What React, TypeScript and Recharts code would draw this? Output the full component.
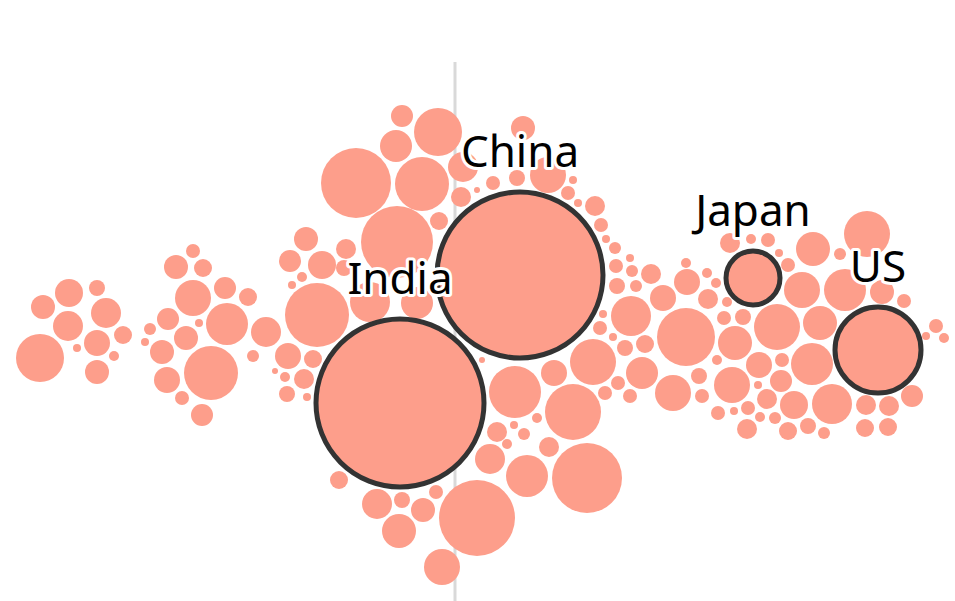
import React from 'react';
import { ScatterChart, Scatter, XAxis, YAxis, ZAxis } from 'recharts';

const BUBBLE_COLOR = '#fd9e8b';
const OUTLINE_COLOR = '#333333';
const RULE_COLOR = '#d9d9d9';

// highlighted countries
const highlightNames = ['China', 'India', 'Japan', 'US'];
const highlightX = [520, 400, 753, 878];
const highlightY = [275, 403, 278, 350];
const highlightR = [83, 84, 27, 43];

// each entry: [x, y, r]
const farLeftCluster: [number, number, number][] = [
  [40, 358, 24], [69, 293, 14], [43, 307, 12], [97, 288, 8], [68, 326, 15], [106, 313, 15],
  [123, 335, 9], [97, 343, 13], [77, 348, 4], [114, 356, 5], [97, 372, 12],
];

const leftCluster: [number, number, number][] = [
  [193, 251, 7], [176, 267, 12], [203, 268, 9], [193, 298, 18], [225, 288, 11], [168, 319, 11],
  [150, 329, 6], [145, 342, 4], [199, 323, 4], [186, 338, 12], [227, 324, 21], [162, 352, 12],
  [211, 373, 27], [167, 380, 13], [182, 398, 7], [202, 415, 11], [248, 297, 9], [266, 332, 15],
  [253, 356, 6],
];

const indiaCluster: [number, number, number][] = [
  [306, 239, 12], [290, 261, 11], [322, 265, 14], [302, 277, 5], [292, 285, 4], [317, 315, 32],
  [288, 356, 13], [313, 359, 9], [275, 371, 3], [285, 377, 5], [304, 379, 10], [287, 394, 8],
  [307, 397, 4], [346, 249, 10], [344, 268, 8],
  [402, 116, 11], [438, 132, 24], [396, 146, 16], [356, 183, 35], [422, 184, 27], [463, 167, 15],
  [461, 197, 10], [439, 221, 9], [397, 242, 36], [477, 190, 3], [370, 302, 20], [417, 303, 16],
  [339, 480, 9], [377, 504, 15], [402, 500, 8], [423, 510, 12], [436, 492, 7], [399, 531, 17],
  [442, 567, 18],
];

const chinaCluster: [number, number, number][] = [
  [523, 128, 12], [493, 183, 7], [517, 178, 8], [548, 175, 18], [573, 180, 4], [568, 193, 7],
  [578, 203, 4], [595, 206, 10], [601, 225, 7], [606, 239, 4], [615, 248, 6], [630, 258, 4],
  [616, 266, 7], [632, 271, 6], [651, 274, 10], [617, 286, 8], [636, 286, 6], [686, 263, 5],
  [687, 282, 13], [707, 273, 5], [716, 283, 5], [663, 298, 13], [708, 299, 10], [631, 316, 20],
  [603, 314, 4], [600, 328, 7], [613, 337, 4], [686, 337, 29], [625, 348, 8], [645, 344, 9],
  [593, 362, 23], [554, 373, 13], [642, 373, 16], [618, 383, 7], [605, 393, 7], [630, 396, 7],
  [673, 393, 18], [699, 376, 8], [702, 396, 7], [515, 392, 26], [573, 412, 28], [537, 418, 5],
  [514, 425, 4], [482, 360, 3], [717, 360, 5], [718, 413, 7],
  [497, 432, 10], [524, 434, 6], [507, 444, 5], [549, 447, 10], [490, 459, 15], [527, 476, 21],
  [587, 478, 35], [477, 518, 38],
];

const richCluster: [number, number, number][] = [
  [867, 234, 23], [813, 249, 17], [840, 254, 6], [768, 240, 7], [751, 239, 5], [730, 243, 10],
  [779, 253, 4], [802, 290, 18], [845, 290, 21], [882, 292, 12], [904, 301, 7], [788, 265, 7],
  [727, 302, 5], [724, 318, 7], [743, 317, 8], [777, 327, 23], [820, 323, 17], [936, 326, 7],
  [926, 336, 4], [944, 338, 5], [735, 343, 17], [759, 365, 13], [782, 360, 7], [812, 364, 21],
  [732, 385, 18], [758, 385, 4], [781, 381, 11], [767, 399, 10], [748, 408, 7], [734, 411, 4],
  [794, 405, 14], [832, 404, 20], [866, 405, 10], [889, 406, 10], [912, 396, 11], [760, 417, 5],
  [775, 418, 6], [747, 429, 10], [788, 431, 9], [808, 426, 8], [824, 433, 6], [865, 428, 9],
  [888, 427, 9],
];

// vertical reference rule
const ruleX = 455;
const ruleTop = 62;
const ruleBottom = 601;

const toRows = (arr: [number, number, number][]) =>
  arr.map(([x, y, r]) => ({ x, y, v: r * r }));

const bubbles = [
  ...toRows(farLeftCluster),
  ...toRows(leftCluster),
  ...toRows(indiaCluster),
  ...toRows(chinaCluster),
  ...toRows(richCluster),
];

const highlights = highlightNames.map((name, i) => ({
  name,
  x: highlightX[i],
  y: highlightY[i],
  v: highlightR[i] * highlightR[i],
}));

const ruleData = [
  { x: ruleX, y: ruleTop, v: 0 },
  { x: ruleX, y: ruleBottom, v: 0 },
];

const radiusOf = (props: any) => {
  if (props.width && props.width > 0) return props.width / 2;
  return Math.sqrt(Math.max(props.size || 0, 0) / Math.PI);
};

const Bubble = (props: any) => {
  const r = radiusOf(props);
  if (!isFinite(props.cx) || !isFinite(props.cy)) return <g />;
  return <circle cx={props.cx} cy={props.cy} r={r} fill={BUBBLE_COLOR} />;
};

const Outlined = (props: any) => {
  const r = radiusOf(props);
  if (!isFinite(props.cx) || !isFinite(props.cy)) return <g />;
  return (
    <circle
      cx={props.cx}
      cy={props.cy}
      r={r}
      fill={BUBBLE_COLOR}
      stroke={OUTLINE_COLOR}
      strokeWidth={5}
    />
  );
};

const NameLabel = (props: any) => {
  const r = radiusOf(props);
  if (!isFinite(props.cx) || !isFinite(props.cy)) return <g />;
  return (
    <text
      x={props.cx}
      y={props.cy - r - 25}
      textAnchor="middle"
      fontFamily="'Noto Sans', 'Open Sans', sans-serif"
      fontSize={44}
      fill="#000"
      stroke="#fff"
      strokeWidth={6}
      strokeLinejoin="round"
      paintOrder="stroke"
    >
      {props.payload.name}
    </text>
  );
};

const Empty = () => <g />;

export default function App() {
  return (
    <div style={{ position: 'absolute', left: 0, top: 0, width: 955, height: 601, background: '#fff' }}>
      <ScatterChart width={955} height={601} margin={{ top: 0, right: 0, bottom: 0, left: 0 }}>
        <XAxis type="number" dataKey="x" domain={[0, 955]} hide allowDataOverflow />
        <YAxis type="number" dataKey="y" domain={[0, 601]} reversed hide allowDataOverflow />
        <ZAxis type="number" dataKey="v" domain={[0, 10000]} range={[0, 10000 * Math.PI]} />
        <Scatter
          data={ruleData}
          line={{ stroke: RULE_COLOR, strokeWidth: 3 }}
          shape={Empty}
          isAnimationActive={false}
        />
        <Scatter data={bubbles} shape={Bubble} isAnimationActive={false} />
        <Scatter data={highlights} shape={Outlined} isAnimationActive={false} />
        <Scatter data={highlights} shape={NameLabel} isAnimationActive={false} />
      </ScatterChart>
    </div>
  );
}
